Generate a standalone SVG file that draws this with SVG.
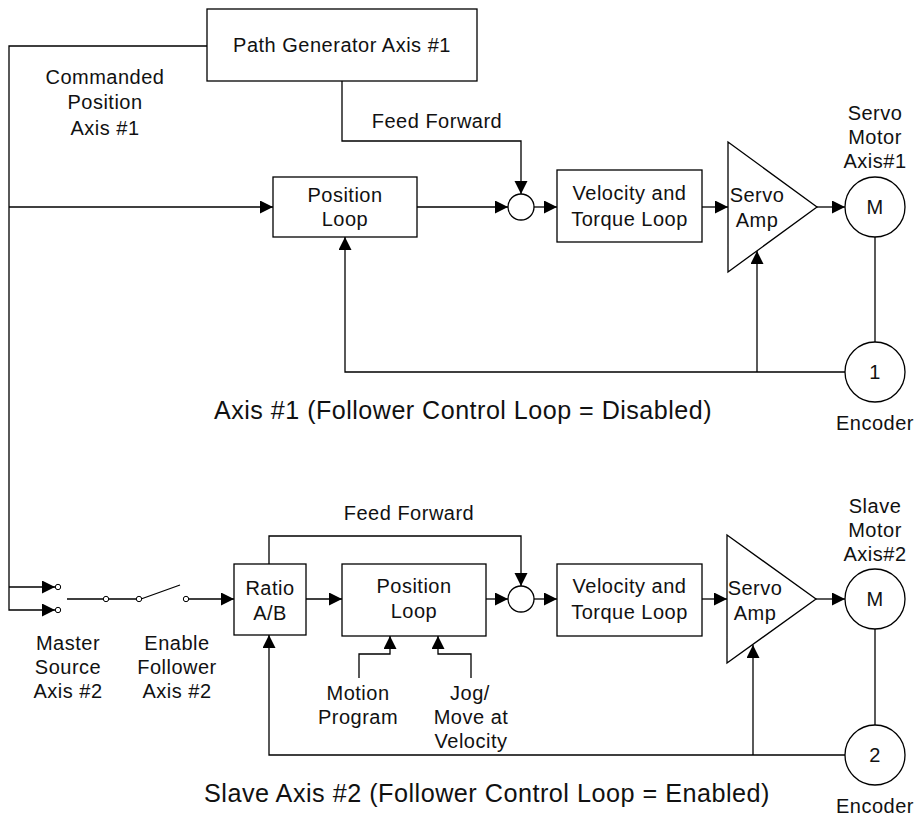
<svg xmlns="http://www.w3.org/2000/svg" width="922" height="836" viewBox="0 0 922 836">
<style>
.b{fill:#fff;stroke:#000;stroke-width:1.3}
.c{fill:none;stroke:#000;stroke-width:1.3}
.a{marker-end:url(#ah)}
.t{font-family:"Liberation Sans",Arial,sans-serif;font-size:20px;letter-spacing:0.5px;fill:#111;text-anchor:middle}
.big{font-family:"Liberation Sans",Arial,sans-serif;font-size:26px;letter-spacing:0.5px;fill:#111}
.sw{fill:#fff;stroke:#000;stroke-width:1}
</style>
<defs>
<marker id="ah" markerUnits="userSpaceOnUse" markerWidth="14" markerHeight="14" refX="13" refY="6.5" orient="auto"><path d="M0,0 L13,6.5 L0,13 z" fill="#000"/></marker>
</defs>
<rect width="922" height="836" fill="#fff"/>

<g id="connectors">
<path class="c a" d="M207,46 H9 V610 H55"/>
<path class="c a" d="M9,207 H273"/>
<path class="c a" d="M9,587 H55"/>
<path class="c a" d="M342,81 V141 H521 V194"/>
<path class="c a" d="M417,207 H508"/>
<path class="c a" d="M534,207 H557"/>
<path class="c a" d="M702,207 H728"/>
<path class="c a" d="M817,207 H845"/>
<path class="c" d="M875,237 V342"/>
<path class="c a" d="M845,372 H345 V237"/>
<path class="c a" d="M757,372 V251"/>
<path class="c" d="M67,599 H103 M109,599 H136 M141,599 L180,585"/>
<path class="c a" d="M189,599 H234"/>
<path class="c a" d="M306,599 H342"/>
<path class="c a" d="M269,564 V536 H521 V586"/>
<path class="c a" d="M486,599 H508"/>
<path class="c a" d="M534,599 H557"/>
<path class="c a" d="M702,599 H727"/>
<path class="c a" d="M816,599 H845"/>
<path class="c" d="M875,629 V725"/>
<path class="c a" d="M845,755 H269 V635"/>
<path class="c a" d="M753,755 V645"/>
<path class="c a" d="M359,678 V654 H390 V636"/>
<path class="c a" d="M471,678 V654 H438 V636"/>
</g>

<g id="path-generator">
<rect class="b" x="207" y="9" width="270" height="72"/>
<text class="t" x="342" y="52">Path Generator Axis #1</text>
</g>
<g id="commanded-position-label">
<text class="t" x="105" y="84">Commanded</text>
<text class="t" x="105" y="109">Position</text>
<text class="t" x="105" y="135">Axis #1</text>
</g>
<g id="feed-forward-1-label"><text class="t" x="437" y="128">Feed Forward</text></g>
<g id="position-loop-1">
<rect class="b" x="273" y="177" width="144" height="60"/>
<text class="t" x="345" y="202">Position</text>
<text class="t" x="345" y="226">Loop</text>
</g>
<g id="sum-1"><circle class="b" cx="521" cy="207" r="13"/></g>
<g id="vt-loop-1">
<rect class="b" x="557" y="170" width="145" height="72"/>
<text class="t" x="629.5" y="200">Velocity and</text>
<text class="t" x="629.5" y="226">Torque Loop</text>
</g>
<g id="servo-amp-1">
<path class="b" d="M728,142 L817,207 L728,272 Z"/>
<text class="t" x="757" y="202">Servo</text>
<text class="t" x="757" y="227">Amp</text>
</g>
<g id="motor-1">
<circle class="b" cx="875" cy="207" r="30"/>
<text class="t" x="875" y="214">M</text>
<text class="t" x="875" y="120">Servo</text>
<text class="t" x="875" y="144">Motor</text>
<text class="t" x="875" y="168">Axis#1</text>
</g>
<g id="encoder-1">
<circle class="b" cx="875" cy="372" r="30"/>
<text class="t" x="875" y="379">1</text>
<text class="t" x="875" y="430">Encoder</text>
</g>
<g id="title-1"><text class="big" x="214" y="419" textLength="498" lengthAdjust="spacingAndGlyphs">Axis #1 (Follower Control Loop = Disabled)</text></g>

<g id="master-source-switch">
<circle class="sw" cx="58" cy="587" r="2.7"/>
<circle class="sw" cx="58" cy="610" r="2.7"/>
<text class="t" x="68" y="650">Master</text>
<text class="t" x="68" y="674">Source</text>
<text class="t" x="68" y="698">Axis #2</text>
</g>
<g id="enable-follower-switch">
<circle class="sw" cx="106" cy="599" r="2.7"/>
<circle class="sw" cx="139" cy="599" r="2.7"/>
<circle class="sw" cx="186" cy="599" r="2.7"/>
<text class="t" x="177" y="650">Enable</text>
<text class="t" x="177" y="674">Follower</text>
<text class="t" x="177" y="698">Axis #2</text>
</g>
<g id="ratio">
<rect class="b" x="234" y="564" width="72" height="71"/>
<text class="t" x="270" y="595">Ratio</text>
<text class="t" x="270" y="620">A/B</text>
</g>
<g id="feed-forward-2-label"><text class="t" x="409" y="520">Feed Forward</text></g>
<g id="position-loop-2">
<rect class="b" x="342" y="564" width="144" height="72"/>
<text class="t" x="414" y="593">Position</text>
<text class="t" x="414" y="618">Loop</text>
</g>
<g id="motion-program-label">
<text class="t" x="358" y="700">Motion</text>
<text class="t" x="358" y="724">Program</text>
</g>
<g id="jog-label">
<text class="t" x="470" y="700">Jog/</text>
<text class="t" x="471" y="724">Move at</text>
<text class="t" x="471" y="748">Velocity</text>
</g>
<g id="sum-2"><circle class="b" cx="521" cy="599" r="13"/></g>
<g id="vt-loop-2">
<rect class="b" x="557" y="564" width="145" height="72"/>
<text class="t" x="629.5" y="593">Velocity and</text>
<text class="t" x="629.5" y="619">Torque Loop</text>
</g>
<g id="servo-amp-2">
<path class="b" d="M727,535 L816,599 L727,663 Z"/>
<text class="t" x="755" y="595">Servo</text>
<text class="t" x="755" y="620">Amp</text>
</g>
<g id="motor-2">
<circle class="b" cx="875" cy="599" r="30"/>
<text class="t" x="875" y="606">M</text>
<text class="t" x="875" y="513">Slave</text>
<text class="t" x="875" y="537">Motor</text>
<text class="t" x="875" y="561">Axis#2</text>
</g>
<g id="encoder-2">
<circle class="b" cx="875" cy="755" r="30"/>
<text class="t" x="875" y="762">2</text>
<text class="t" x="875" y="813">Encoder</text>
</g>
<g id="title-2"><text class="big" x="204" y="802" textLength="566" lengthAdjust="spacingAndGlyphs">Slave Axis #2 (Follower Control Loop = Enabled)</text></g>
</svg>
